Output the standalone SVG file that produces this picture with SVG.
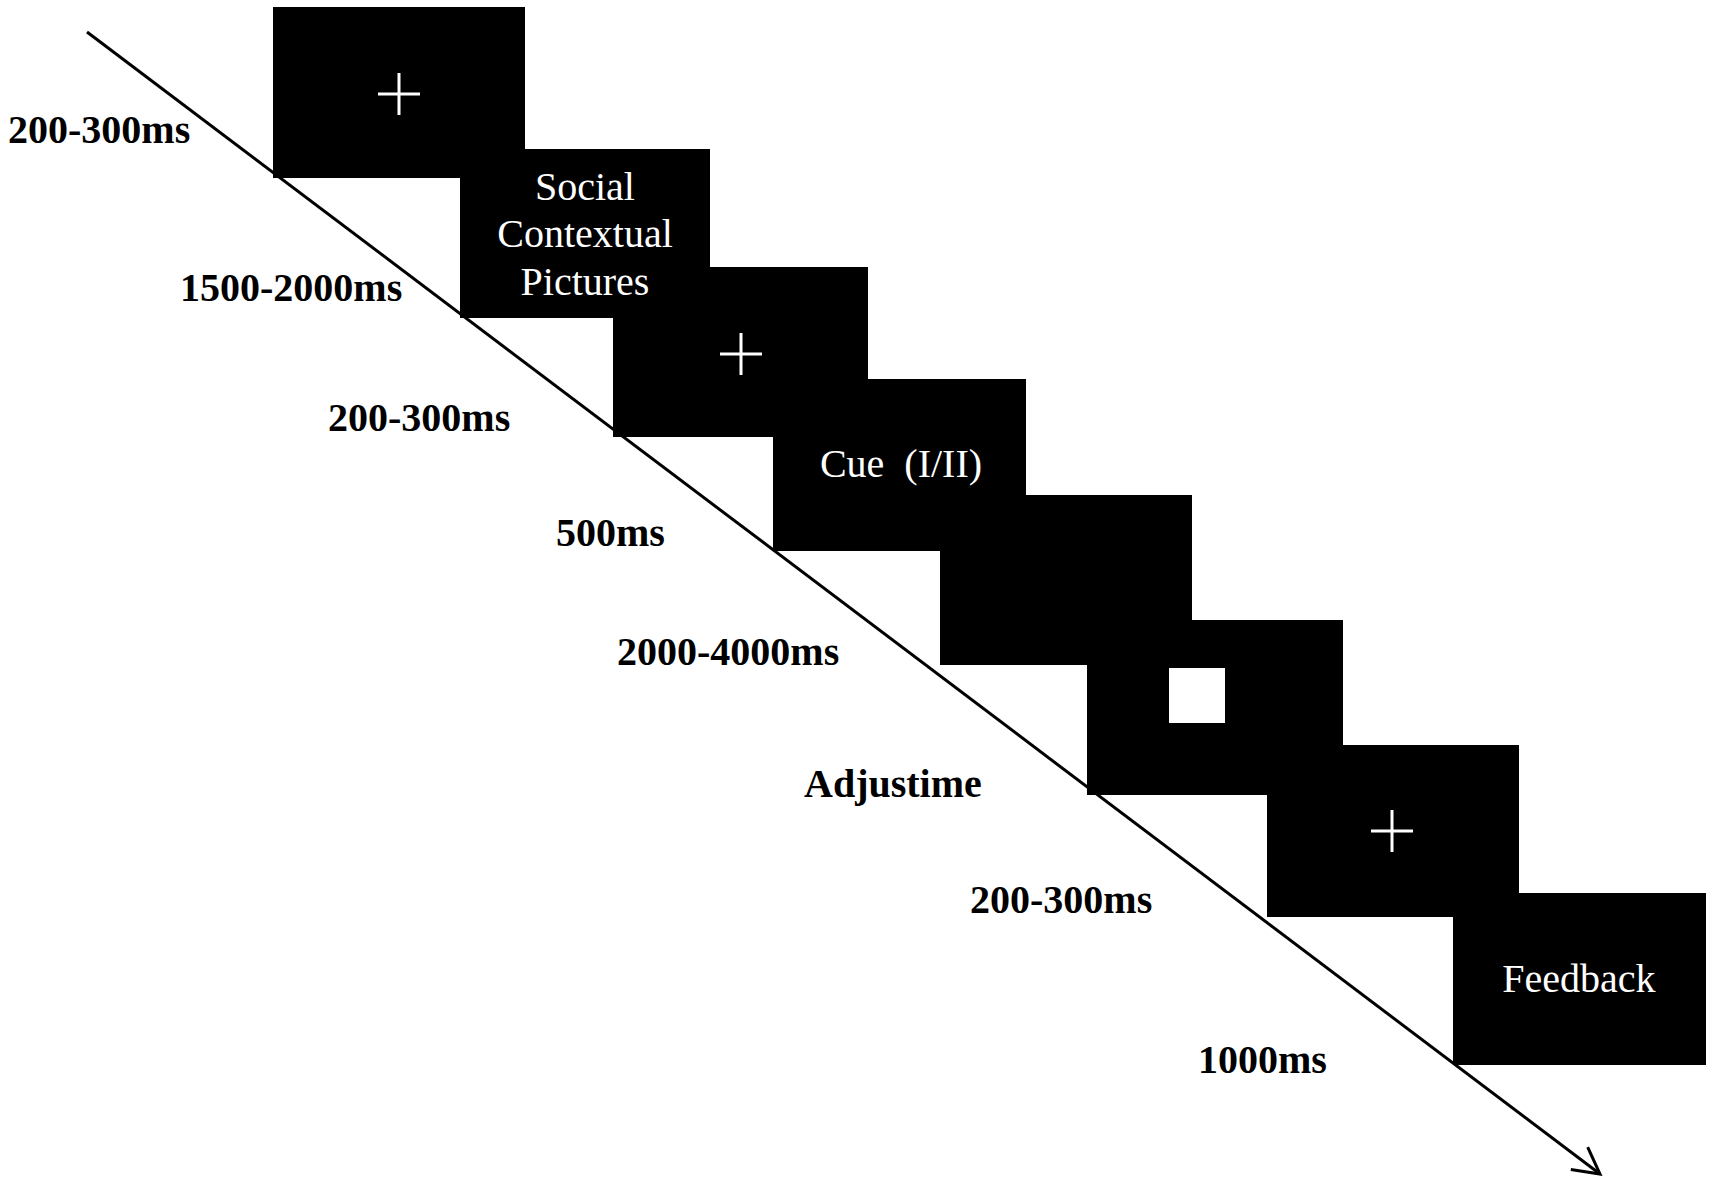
<svg xmlns="http://www.w3.org/2000/svg" width="1713" height="1184" viewBox="0 0 1713 1184">
<style>
.box{fill:#000}
.cross{stroke:#fff;stroke-width:3;fill:none}
.lbl{font-family:"Liberation Serif","Times New Roman",serif;font-size:40px;font-weight:bold;fill:#000}
.in{font-family:"Liberation Serif","Times New Roman",serif;font-size:40px;fill:#fff;text-anchor:middle}
.axis{stroke:#000;stroke-width:3;fill:none}
</style>
<defs>
<marker id="arr" markerUnits="userSpaceOnUse" markerWidth="40" markerHeight="40" viewBox="-30 -20 40 40" refX="0" refY="0" orient="auto">
<path d="M-26,-14 L0,0 L-26,14" fill="none" stroke="#000" stroke-width="3"/>
</marker>
</defs>
<rect width="1713" height="1184" fill="#fff"/>
<g id="connectors">
<line class="axis" x1="87" y1="32" x2="1600" y2="1174" marker-end="url(#arr)"/>
</g>
<g id="fix1">
<rect class="box" x="273" y="7" width="252" height="171"/>
<path class="cross" d="M378,94 H420 M399,73 V115"/>
</g>
<g id="fix2">
<rect class="box" x="613" y="267" width="255" height="170"/>
<path class="cross" d="M720,354 H762 M741,333 V375"/>
</g>
<g id="pictures">
<rect class="box" x="460" y="149" width="250" height="169"/>
<text class="in" x="585" y="200">Social</text>
<text class="in" x="585" y="247">Contextual</text>
<text class="in" x="585" y="295">Pictures</text>
</g>
<g id="cue">
<rect class="box" x="773" y="379" width="253" height="172"/>
<text class="in" x="901" y="477" xml:space="preserve">Cue  (I/II)</text>
</g>
<g id="blank">
<rect class="box" x="940" y="495" width="252" height="170"/>
</g>
<g id="target">
<rect class="box" x="1087" y="620" width="256" height="175"/>
<rect x="1169" y="668" width="56" height="55" fill="#fff"/>
</g>
<g id="fix3">
<rect class="box" x="1267" y="745" width="252" height="172"/>
<path class="cross" d="M1371,831 H1413 M1392,810 V852"/>
</g>
<g id="feedback">
<rect class="box" x="1453" y="893" width="253" height="172"/>
<text class="in" x="1579" y="992">Feedback</text>
</g>
<g id="labels">
<text class="lbl" x="8" y="143">200-300ms</text>
<text class="lbl" x="180" y="301">1500-2000ms</text>
<text class="lbl" x="328" y="431">200-300ms</text>
<text class="lbl" x="556" y="546">500ms</text>
<text class="lbl" x="617" y="665">2000-4000ms</text>
<text class="lbl" x="804" y="797">Adjustime</text>
<text class="lbl" x="970" y="913">200-300ms</text>
<text class="lbl" x="1198" y="1073">1000ms</text>
</g>
</svg>
